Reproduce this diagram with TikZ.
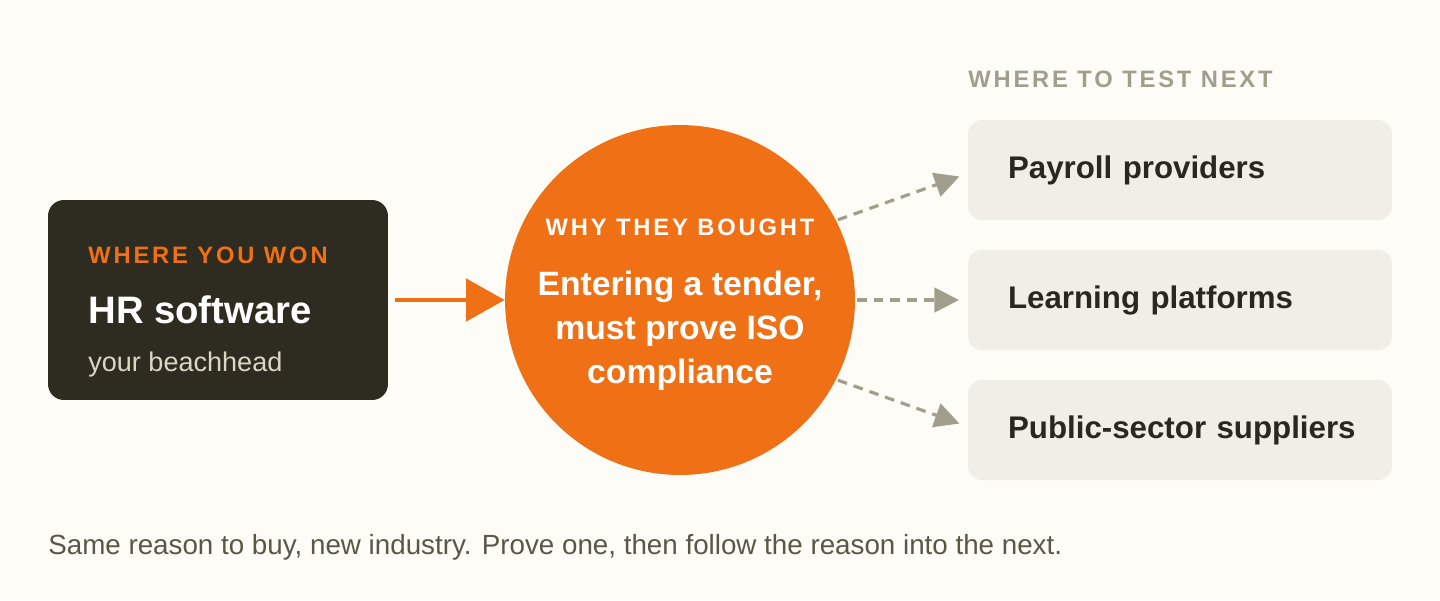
\documentclass[tikz,border=0pt]{standalone}
\usepackage{fontspec}
\setmainfont{Liberation Sans}
\newfontfamily\spacedfont[LetterSpace=12]{Liberation Sans}
\usetikzlibrary{positioning,arrows.meta}
\definecolor{bgcream}{HTML}{FDFCF7}
\definecolor{darkbox}{HTML}{2E2B20}
\definecolor{accent}{HTML}{F07016}
\definecolor{lightbox}{HTML}{F1EEE7}
\definecolor{mutegray}{HTML}{A29E8E}
\definecolor{inktext}{HTML}{2A2720}
\definecolor{captext}{HTML}{5A5648}
\definecolor{softbeige}{HTML}{DCD6C4}
\tikzset{
  px/.style={x=0.02cm,y=-0.02cm},
  market/.style={fill=lightbox,rounded corners=8pt,minimum width=8.48cm,minimum height=2cm,
    text=inktext,font=\fontsize{17.8}{20}\selectfont\bfseries,align=left,text width=7.4cm,inner sep=0pt,
    execute at begin node={\hspace*{0.26cm}}},
  testarrow/.style={draw=mutegray,line width=1.8pt,dash pattern=on 5.5pt off 4pt,
    -{Triangle[length=14pt,width=14pt]},shorten <=1pt,shorten >=5pt},
  tag/.style={font=\fontsize{13.5}{15}\spacedfont\bfseries,anchor=base west,inner sep=0pt}
}
\begin{document}
\begin{tikzpicture}[px]
  \fill[bgcream] (0,0) rectangle (1440,600);
  \useasboundingbox (0,0) rectangle (1440,600);

  % where you won
  \node[fill=darkbox,rounded corners=9pt,minimum width=6.8cm,minimum height=4cm,inner sep=0pt]
    (won) at (218,300) {};
  \node[tag,text=accent] (wontag) at (88,263) {WHERE YOU WON};
  \node[font=\fontsize{21.8}{24}\selectfont\bfseries,text=white,anchor=base west,inner sep=0pt]
    (hr) at (88,323) {HR software};
  \node[font=\fontsize{15.4}{17}\selectfont,text=softbeige,anchor=base west,inner sep=0pt]
    (beach) at (88,371) {your beachhead};

  % why they bought
  \node[circle,fill=accent,minimum size=7cm,inner sep=0pt] (why) at (680,300) {};
  \node[tag,text=white,anchor=base] (whytag) at (680,235) {WHY THEY BOUGHT};
  \node[font=\fontsize{19.2}{25}\selectfont\bfseries,text=white,align=center] (reason) at (680,331)
    {Entering a tender,\\must prove ISO\\compliance};

  \draw[draw=accent,line width=2.5pt,-{Triangle[length=22pt,width=24pt]}]
    ([xshift=4pt]won.east) -- (why.west);

  % where to test next
  \node[tag,text=mutegray] (nexttag) at (968,87) {WHERE TO TEST NEXT};
  \node[market] (pay) at (1180,170) {Payroll providers};
  \node[market] (learn) at (1180,300) {Learning platforms};
  \node[market] (public) at (1180,430) {Public-sector suppliers};

  \draw[testarrow] (why.27) -- ([yshift=-2pt]pay.west);
  \draw[testarrow] (why.east) -- (learn.west);
  \draw[testarrow] (why.-27) -- ([yshift=2pt]public.west);

  \node[font=\fontsize{15.8}{18}\selectfont,text=captext,anchor=base west,inner sep=0pt]
    (caption) at (48,554) {Same reason to buy, new industry. Prove one, then follow the reason into the next.};
\end{tikzpicture}
\end{document}
